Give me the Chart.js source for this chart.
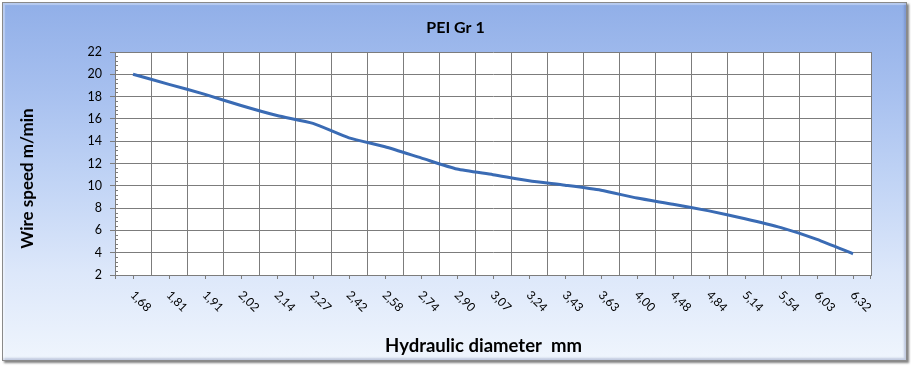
<!DOCTYPE html>
<html>
<head>
<meta charset="utf-8">
<script src="https://cdn.jsdelivr.net/npm/chart.js@4.4.1/dist/chart.umd.min.js"></script>
<style>
  html, body { margin: 0; padding: 0; background: #ffffff; }
  #wrap { position: relative; width: 911px; height: 368px; overflow: hidden; }
  #frame {
    position: absolute; left: 2px; top: 2px; width: 903px; height: 357px;
    border: 1px solid #8a8a8a;
    background: linear-gradient(to bottom, #91afe8 0%, #a7c0ef 25%, #c1d4f5 50%, #dce7fa 75%, #eff5fd 100%);
    box-shadow: 2px 2px 2px rgba(90,90,90,0.75), inset 2px 2px 1px rgba(255,255,255,0.35), inset -2px -2px 2px rgba(60,80,140,0.25);
  }
  canvas { position: absolute; left: 0; top: 0; }
</style>
</head>
<body>
<div id="wrap">
  <div id="frame"></div>
  <canvas id="c" width="911" height="368"></canvas>
</div>
<script>
// ---- data ----
const chartTitle = 'PEI Gr 1';
const xTitle = 'Hydraulic diameter  mm';
const yTitle = 'Wire speed m/min';
const categories = ['1,68','1,81','1,91','2,02','2,14','2,27','2,42','2,58','2,74','2,90','3,07',
                    '3,24','3,43','3,63','4,00','4,48','4,84','5,14','5,54','6,03','6,32'];
const wireSpeed = [20.0, 19.1, 18.2, 17.2, 16.3, 15.6, 14.3, 13.5, 12.5, 11.5, 11.0,
                   10.45, 10.05, 9.6, 8.9, 8.35, 7.75, 7.05, 6.25, 5.2, 3.9];
const yTicks = [2, 4, 6, 8, 10, 12, 14, 16, 18, 20, 22];

// ---- style ----
const GRID = '#7c7c7c';
const LINE = '#3a6bb4';
const FONT = 'Lato, "Open Sans", sans-serif';

const decor = {
  id: 'decor',
  beforeDraw(chart) {
    const { ctx, chartArea: a } = chart;
    ctx.save();
    ctx.fillStyle = '#ffffff';
    ctx.fillRect(a.left, a.top, a.right - a.left, a.bottom - a.top);
    ctx.restore();
  },
  afterDraw(chart) {
    const { ctx, chartArea: a, scales: { x, y } } = chart;
    ctx.save();
    ctx.strokeStyle = GRID;
    ctx.lineWidth = 1;
    const seg = (x1, y1, x2, y2) => { ctx.beginPath(); ctx.moveTo(x1, y1); ctx.lineTo(x2, y2); ctx.stroke(); };
    // minor ticks on the value axis
    for (let i = 0; i < yTicks.length - 1; i++) {
      for (let j = 1; j < 5; j++) {
        const v = yTicks[i] + j * (yTicks[i + 1] - yTicks[i]) / 5;
        const py = Math.round(y.getPixelForValue(v)) + 0.5;
        seg(a.left, py, a.left + 3, py);
      }
    }
    // category tick marks and rotated labels
    ctx.fillStyle = '#000000';
    ctx.font = '12px ' + FONT;
    ctx.textAlign = 'left';
    ctx.textBaseline = 'middle';
    seg(Math.round(a.left) + 0.5, a.bottom, Math.round(a.left) + 0.5, a.bottom + 4);
    seg(Math.round(a.right) - 0.5, a.bottom, Math.round(a.right) - 0.5, a.bottom + 4);
    categories.forEach((c, i) => {
      const px = Math.round(x.getPixelForValue(i)) + 0.5;
      seg(px, a.bottom, px, a.bottom + 4);
      ctx.save();
      ctx.translate(px - 1, a.bottom + 18);
      ctx.rotate(Math.PI / 4);
      ctx.fillText(c, 0, 0);
      ctx.restore();
    });
    // axis titles
    ctx.fillStyle = '#000000';
    ctx.textAlign = 'center';
    ctx.textBaseline = 'middle';
    ctx.font = 'bold 18.5px ' + FONT;
    ctx.fillText(xTitle, 483.5, 346.5);
    ctx.font = 'bold 17px ' + FONT;
    ctx.save();
    ctx.translate(28, 178.5);
    ctx.rotate(-Math.PI / 2);
    ctx.fillText(yTitle, 0, 0);
    ctx.restore();
    ctx.restore();
  }
};

new Chart(document.getElementById('c'), {
  type: 'line',
  data: {
    labels: categories,
    datasets: [{
      label: 'Wire speed',
      data: wireSpeed,
      borderColor: LINE,
      backgroundColor: LINE,
      borderWidth: 3,
      pointRadius: 0,
      tension: 0.2,
      fill: false
    }]
  },
  options: {
    responsive: false,
    animation: false,
    devicePixelRatio: 1,
    layout: { padding: { left: 40, right: 40, top: 0, bottom: 0 } },
    plugins: {
      legend: { display: false },
      tooltip: { enabled: false },
      title: {
        display: true,
        text: chartTitle,
        color: '#000000',
        font: { family: FONT, size: 16, weight: 'bold' },
        padding: { top: 18, bottom: 14.8 }
      }
    },
    scales: {
      x: {
        type: 'category',
        offset: true,
        grid: { offset: true, color: GRID, lineWidth: 1, drawTicks: false },
        border: { display: true, color: GRID, width: 1 },
        ticks: { display: false },
        afterFit: s => { s.height = 93; }
      },
      y: {
        min: 2, max: 22,
        afterBuildTicks: s => { s.ticks = yTicks.map(v => ({ value: v })); },
        grid: { color: GRID, lineWidth: 1, drawTicks: true, tickLength: 5 },
        border: { display: true, color: GRID, width: 1 },
        ticks: {
          color: '#000000',
          padding: 8,
          font: { family: FONT, size: 12.5 }
        },
        afterFit: s => { s.width = 75; }
      }
    }
  },
  plugins: [decor]
});
</script>
</body>
</html>
